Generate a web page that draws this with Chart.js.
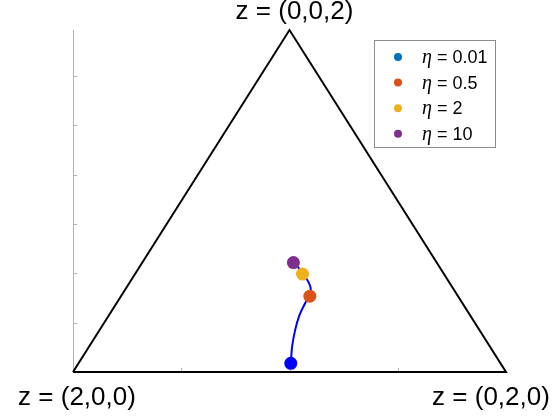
<!DOCTYPE html>
<html>
<head>
<meta charset="utf-8">
<script src="https://cdn.jsdelivr.net/npm/chart.js@4"></script>
<style>
  html, body { margin: 0; padding: 0; background: #fff; }
  #wrap { width: 560px; height: 420px; position: relative; }
</style>
</head>
<body>
<div id="wrap"><canvas id="c"></canvas></div>
<script>
// simplex triangle: (2,0,0) bottom-left, (0,2,0) bottom-right, (0,0,2) apex
const triX = [0, 1, 0.5, 0];
const triY = [0, 0, 0.866, 0];
const vertexNames = ['z = (2,0,0)', 'z = (0,2,0)', 'z = (0,0,2)'];

// trajectory
const pathX = [0.503, 0.506, 0.513, 0.523, 0.536, 0.547, 0.549, 0.543, 0.532, 0.518, 0.509];
const pathY = [0.022, 0.064, 0.106, 0.144, 0.174, 0.199, 0.212, 0.229, 0.250, 0.267, 0.277];

// markers for each eta
const etaLabels = ['0.01', '0.5', '2', '10'];
const etaX = [0.503, 0.547, 0.530, 0.509];
const etaY = [0.022, 0.192, 0.248, 0.277];
const etaColors = ['#0072BD', '#D95319', '#EDB120', '#7E2F8E'];

const xTicks = [0.25, 0.5, 0.75];
const yTicks = [0.125, 0.25, 0.375, 0.5, 0.625, 0.75];

const pts = (xs, ys) => xs.map((x, i) => ({ x, y: ys[i] }));
const AXIS = '#b3b3b3';

// MATLAB-ish axes: grey left spine, inward ticks
const axesPlugin = {
  id: 'axes',
  beforeDatasetsDraw(chart) {
    const { ctx, chartArea: a, scales: { x, y } } = chart;
    ctx.save();
    ctx.strokeStyle = AXIS;
    ctx.lineWidth = 1;
    ctx.beginPath();
    ctx.moveTo(a.left + 0.5, a.top);
    ctx.lineTo(a.left + 0.5, a.bottom);
    yTicks.forEach((t) => {
      const py = Math.round(y.getPixelForValue(t)) + 0.5;
      ctx.moveTo(a.left, py);
      ctx.lineTo(a.left + 4, py);
    });
    xTicks.forEach((t) => {
      const px = Math.round(x.getPixelForValue(t)) + 0.5;
      ctx.moveTo(px, a.bottom);
      ctx.lineTo(px, a.bottom - 4);
    });
    ctx.stroke();
    ctx.restore();
  },
  afterDraw(chart) {
    const { ctx, scales: { x, y } } = chart;
    ctx.save();
    ctx.fillStyle = '#000';
    ctx.font = '26px "Liberation Sans", Arial, sans-serif';
    ctx.textBaseline = 'middle';
    ctx.textAlign = 'center';
    const v = [[triX[0], triY[0], 4, 26], [triX[1], triY[1], -15, 26], [triX[2], triY[2], 5, -18]];
    v.forEach(([vx, vy, dx, dy], i) => {
      ctx.fillText(vertexNames[i], x.getPixelForValue(vx) + dx, y.getPixelForValue(vy) + dy);
    });

    // legend box, top right inside the axes
    ctx.textAlign = 'left';
    const bx = 374.5, by = 40.5, bw = 121, bh = 107;
    ctx.fillStyle = '#fff';
    ctx.fillRect(bx, by, bw, bh);
    ctx.strokeStyle = '#8c8c8c';
    ctx.lineWidth = 1;
    ctx.strokeRect(bx, by, bw, bh);
    etaLabels.forEach((lab, i) => {
      const ry = 57 + i * 25.6;
      ctx.fillStyle = etaColors[i];
      ctx.beginPath();
      ctx.arc(398, ry, 4, 0, Math.PI * 2);
      ctx.fill();
      ctx.fillStyle = '#000';
      ctx.font = 'italic 20px "Liberation Serif", serif';
      ctx.fillText('\u03b7', 422, ry + 1);
      ctx.font = '18px "Liberation Sans", Arial, sans-serif';
      ctx.fillText(' = ' + lab, 432, ry + 1);
    });
    ctx.restore();
  },
};

new Chart(document.getElementById('c'), {
  type: 'scatter',
  data: {
    datasets: [
      { type: 'line', data: pts(triX, triY), borderColor: '#000', borderWidth: 2, pointRadius: 0, tension: 0, clip: false },
      ...etaLabels.map((lab, i) => ({
        data: [{ x: etaX[i], y: etaY[i] }],
        backgroundColor: i === 0 ? '#0000FF' : etaColors[i],
        borderWidth: 0, pointRadius: 6.5, clip: false,
      })).reverse(),
      { type: 'line', data: pts(pathX, pathY), borderColor: '#0000FF', borderWidth: 2, pointRadius: 0, tension: 0.4, clip: false },
    ],
  },
  options: {
    responsive: true,
    maintainAspectRatio: false,
    animation: false,
    layout: { padding: { left: 73, right: 54, top: 30, bottom: 48 } },
    scales: {
      x: { type: 'linear', min: 0, max: 1, display: false },
      y: { type: 'linear', min: 0, max: 0.866, display: false },
    },
    plugins: { legend: { display: false }, tooltip: { enabled: false } },
  },
  plugins: [axesPlugin],
});
</script>
</body>
</html>
